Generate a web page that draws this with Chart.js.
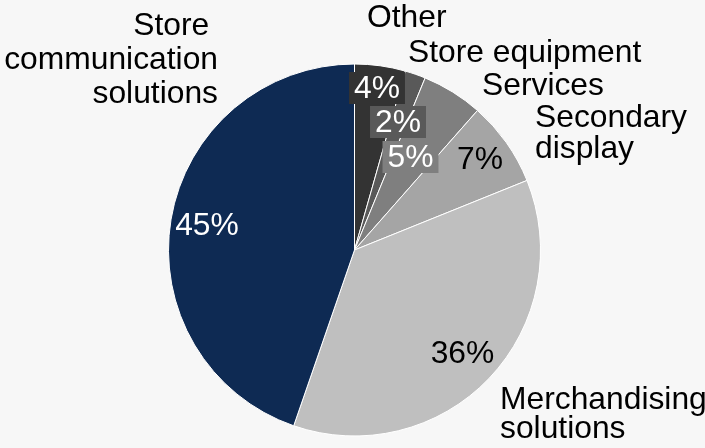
<!DOCTYPE html>
<html>
<head>
<meta charset="utf-8">
<script src="https://cdn.jsdelivr.net/npm/chart.js@4/dist/chart.umd.min.js"></script>
<style>
  html, body { margin: 0; padding: 0; background: #f7f7f7; }
  #wrap { width: 705px; height: 448px; }
</style>
</head>
<body>
<div id="wrap"><canvas id="pieChart" width="705" height="448"></canvas></div>
<script>
// slices, clockwise from 12 o'clock
const categories = [
  ['Other'],
  ['Store equipment'],
  ['Services'],
  ['Secondary', 'display'],
  ['Merchandising', 'solutions'],
  ['Store ', 'communication', 'solutions']
];
const shares = [4.4, 1.8, 5.3, 7.4, 36.4, 44.7];
const sliceColors = ['#333333', '#595959', '#7f7f7f', '#a5a5a5', '#bfbfbf', '#0e2a53'];

// where the texts sit, in px from the pie centre
const pctStyle = [
  { dx: 22.5, dy: -152, color: '#ffffff', box: true },
  { dx: 43.5, dy: -118, color: '#ffffff', box: true },
  { dx: 56, dy: -83, color: '#ffffff', box: true },
  { dx: 125.5, dy: -81, color: '#000000', box: false },
  { dx: 108, dy: 113, color: '#000000', box: false },
  { dx: -147.5, dy: -15, color: '#ffffff', box: false }
];
const nameStyle = [
  { dx: 12.5, dy: -223, align: 'left', lh: 33 },
  { dx: 53.5, dy: -188, align: 'left', lh: 33 },
  { dx: 127.5, dy: -155, align: 'left', lh: 33 },
  { dx: 180.5, dy: -123, align: 'left', lh: 31 },
  { dx: 145.5, dy: 159, align: 'left', lh: 29 },
  { dx: -136.5, dy: -215, align: 'right', lh: 34 }
];

const FONT = '31.8px "Liberation Sans", Arial, sans-serif';

const pieLabels = {
  id: 'pieLabels',
  afterDatasetsDraw(chart) {
    const ctx = chart.ctx;
    const arcs = chart.getDatasetMeta(0).data;
    const cx = arcs[0].x;
    const cy = arcs[0].y;
    ctx.save();
    ctx.font = FONT;
    ctx.textBaseline = 'alphabetic';

    // percentages
    shares.forEach((v, i) => {
      const s = pctStyle[i];
      const txt = Math.round(v) + '%';
      const x = cx + s.dx;
      const y = cy + s.dy;
      const w = ctx.measureText(txt).width;
      if (s.box) {
        ctx.fillStyle = sliceColors[i];
        ctx.fillRect(x - w / 2 - 5, y - 26, w + 10, 32);
      }
      ctx.fillStyle = s.color;
      ctx.textAlign = 'center';
      ctx.fillText(txt, x, y);
    });

    // category names
    ctx.fillStyle = '#000000';
    categories.forEach((lines, i) => {
      const s = nameStyle[i];
      ctx.textAlign = s.align;
      lines.forEach((line, j) => {
        ctx.fillText(line, cx + s.dx, cy + s.dy + j * s.lh);
      });
    });
    ctx.restore();
  }
};

new Chart(document.getElementById('pieChart'), {
  type: 'pie',
  data: {
    labels: categories.map(c => c.join(' ')),
    datasets: [{
      data: shares,
      backgroundColor: sliceColors,
      borderColor: '#ffffff',
      borderWidth: 1
    }]
  },
  options: {
    responsive: false,
    animation: false,
    layout: { padding: { left: 168, right: 164, top: 63, bottom: 11 } },
    plugins: {
      legend: { display: false },
      tooltip: { enabled: false }
    }
  },
  plugins: [pieLabels]
});
</script>
</body>
</html>
